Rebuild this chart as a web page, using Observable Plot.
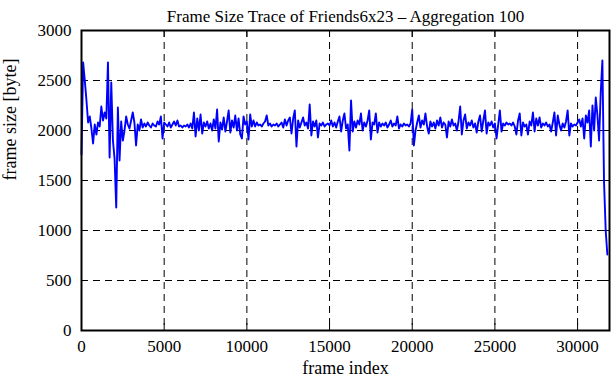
<!DOCTYPE html>
<html>
<head>
<meta charset="utf-8">
<script src="https://cdn.jsdelivr.net/npm/d3@7"></script>
<script src="https://cdn.jsdelivr.net/npm/@observablehq/plot@0.6"></script>
<style>
  html, body { margin: 0; padding: 0; background: #fff; }
</style>
</head>
<body>
<div id="chart"></div>
<script>
const chartTitle = "Frame Size Trace of Friends6x23 \u2013 Aggregation 100";
const xLabel = "frame index";
const yLabel = "frame size [byte]";
const aggregation = 100;
const xTicks = [0, 5000, 10000, 15000, 20000, 25000, 30000];
const yTicks = [0, 500, 1000, 1500, 2000, 2500, 3000];

// aggregated frame sizes (bytes), one value per 100 frames
const frameSizes = [
  1760,2680,2500,2300,2080,2140,2020,1870,2060,1960,
  2080,2040,2240,2100,2180,2120,2680,1730,2480,1900,
  1720,1230,2230,1700,2090,1900,2000,2140,2060,2020,
  2100,2180,2080,1850,2060,2000,2110,2030,2070,2040,
  2080,2050,2030,2070,2050,2040,2090,2060,2140,1920,
  2080,
  2060,2040,2080,2030,2060,2090,2050,2100,2040,
  2050,2030,2050,2040,2060,2030,2070,2020,2180,1940,
  2120,2000,2160,1970,2080,2040,2090,2020,2070,2000,
  2110,2020,2210,1890,2080,2010,2130,1990,2090,2200,
  1980,2100,2030,2150,2000,2120,1960,1920,2140,2060,
  2090,
  1910,2160,2040,2100,2040,2080,2050,2060,2040,
  2070,2090,2150,2050,2070,2040,2060,2050,2070,2040,
  2060,2080,2030,2110,2050,2100,2130,1970,2120,2200,
  1840,2100,2030,2080,2130,2050,2080,2020,2260,1950,
  2090,2040,2100,1930,2070,2050,2080,2040,2060,2070,
  2050,
  2100,2040,2080,2030,2090,2140,1990,2100,2170,
  2020,2060,1800,2300,1990,2090,2030,2100,2060,2170,
  2000,2080,2040,2100,2200,1910,2080,2060,2170,1980,
  2080,2040,2070,2050,2080,2030,2060,2100,2040,2070,
  2050,2140,2020,2060,2040,2070,2050,2060,2040,2070,
  2210,
  1850,2000,2080,2150,2030,2100,2060,2170,2040,
  1970,2090,2040,2080,2020,2100,2050,2130,2030,2080,
  2060,1930,2090,2040,2110,2050,2070,2000,2090,2240,
  1960,2100,2160,2020,2080,2050,2100,2030,2070,1980,
  2090,2150,1990,2100,2200,1970,2080,2050,2090,2030,
  2070,
  1920,2060,2200,1990,2070,2050,2080,2060,2070,
  2050,2080,2040,1960,2100,2170,1950,2080,2040,2060,
  1960,2090,2050,2180,1990,2120,2050,2130,2030,2070,
  2050,2080,2040,2060,1990,2080,2180,1950,2150,2060,
  2000,2070,2030,2090,2200,1950,2070,2040,2060,2050,
  2080,
  2110,2040,2120,1920,2150,2080,2200,1840,2250,
  2000,2330,2150,1900,2380,2700,1480,1000,760
];

const data = frameSizes.map((v, i) => ({frame: i * aggregation, size: v}));

const W = 611, H = 380;
const mL = 81, mR = 2, mT = 30, mB = 50;
const plotW = W - mL - mR, plotH = H - mT - mB;
const tickLen = 7;
const dash = "7,5";

const chart = Plot.plot({
  width: W,
  height: H,
  marginLeft: mL,
  marginRight: mR,
  marginTop: mT,
  marginBottom: mB,
  style: {fontFamily: "'Liberation Serif', 'DejaVu Serif', serif", fontSize: "17px", background: "#fff", color: "#000"},
  x: {domain: [0, 31930], ticks: xTicks, tickFormat: d3.format("d"), tickSize: 0, tickPadding: 9, label: null},
  y: {domain: [0, 3000], ticks: yTicks, tickFormat: d3.format("d"), tickSize: 0, tickPadding: 10, label: null},
  marks: [
    Plot.ruleY(yTicks, {y: d => d, stroke: "#000", strokeWidth: 1, strokeDasharray: dash}),
    Plot.ruleX(xTicks, {x: d => d, stroke: "#000", strokeWidth: 1, strokeDasharray: dash}),
    Plot.tickX(xTicks, {x: d => d, stroke: "#000", strokeWidth: 1, insetTop: plotH - tickLen}),
    Plot.tickX(xTicks, {x: d => d, stroke: "#000", strokeWidth: 1, insetBottom: plotH - tickLen}),
    Plot.tickY(yTicks, {y: d => d, stroke: "#000", strokeWidth: 1, insetRight: plotW - tickLen}),
    Plot.tickY(yTicks, {y: d => d, stroke: "#000", strokeWidth: 1, insetLeft: plotW - tickLen}),
    Plot.line(data, {x: "frame", y: "size", stroke: "#0000ff", strokeWidth: 1.9}),
    Plot.frame({stroke: "#000", strokeWidth: 2}),
    Plot.text([chartTitle], {text: d => d, frameAnchor: "top", dy: -21, fontSize: 17}),
    Plot.text([xLabel], {text: d => d, frameAnchor: "bottom", dy: 43, fontSize: 18}),
    Plot.text([yLabel], {text: d => d, frameAnchor: "left", rotate: -90, dx: -71, fontSize: 18})
  ]
});

document.getElementById("chart").appendChild(chart);
</script>
</body>
</html>
